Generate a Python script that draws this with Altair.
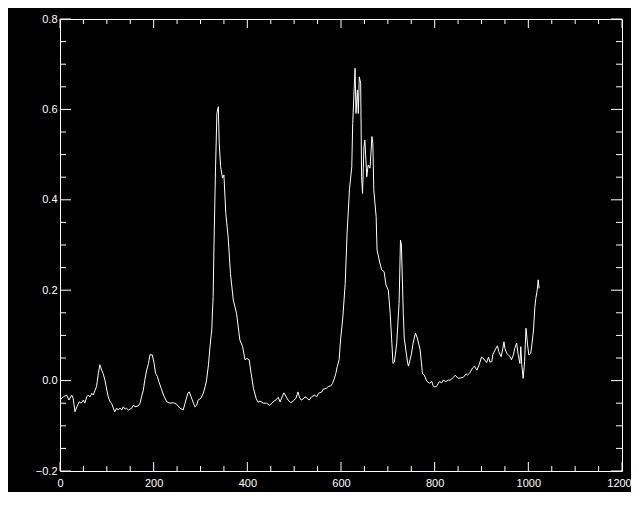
import altair as alt
import pandas as pd

# Spectrum samples
xs = [0, 7, 14, 19, 25, 28, 32, 36, 41, 45, 50, 53, 57, 60, 64, 68, 71, 75, 78, 82,
      85, 89, 92, 96, 100, 103, 107, 110, 114, 117, 121, 124, 128, 132, 135, 139, 142, 146, 153, 157,
      160, 167, 171, 174, 178, 181, 185, 189, 192, 197, 201, 204, 208, 211, 216, 221, 228, 235, 242, 249,
      256, 263, 267, 273, 276, 280, 285, 288, 292, 295, 301, 306, 310, 313, 317, 320, 324, 327, 329, 332,
      335, 338, 340, 343, 347, 350, 354, 359, 364, 370, 377, 384, 390, 395, 399, 404, 408, 413, 419, 423,
      427, 434, 441, 448, 455, 463, 466, 470, 473, 478, 483, 487, 493, 498, 504, 508, 511, 515, 519, 523,
      528, 532, 537, 544, 548, 552, 559, 562, 569, 573, 578, 582, 586, 589, 592, 596, 599, 604, 609, 613,
      618, 623, 625, 628, 630, 632, 635, 637, 639, 642, 644, 646, 649, 651, 655, 658, 662, 666, 668, 670,
      675, 677, 683, 687, 692, 696, 701, 705, 708, 711, 714, 719, 724, 727, 729, 733, 735, 742, 744, 750,
      754, 759, 763, 769, 774, 778, 783, 789, 794, 796, 799, 804, 810, 815, 818, 824, 829, 833, 840, 844,
      850, 856, 861, 867, 870, 875, 881, 885, 890, 895, 900, 905, 911, 915, 918, 922, 924, 930, 934, 937,
      942, 945, 948, 950, 954, 957, 961, 964, 968, 971, 975, 978, 982, 984, 986, 989, 992, 995, 998, 1001,
      1005, 1008, 1011, 1014, 1016, 1019, 1021, 1023]
ys = [-0.043, -0.036, -0.032, -0.043, -0.032, -0.039, -0.069, -0.058, -0.047, -0.050, -0.043, -0.050, -0.036, -0.032, -0.036, -0.028, -0.032, -0.021, -0.013, 0.016,
      0.035, 0.023, 0.016, 0.001, -0.021, -0.036, -0.047, -0.050, -0.061, -0.069, -0.061, -0.065, -0.061, -0.065, -0.058, -0.063, -0.061, -0.065, -0.061, -0.054,
      -0.058, -0.056, -0.050, -0.036, -0.021, 0.001, 0.023, 0.038, 0.057, 0.057, 0.038, 0.016, 0.009, -0.002, -0.017, -0.032, -0.047, -0.050, -0.049, -0.052,
      -0.061, -0.065, -0.050, -0.028, -0.025, -0.036, -0.050, -0.058, -0.054, -0.043, -0.039, -0.028, -0.013, 0.001, 0.035, 0.072, 0.112, 0.186, 0.311, 0.466,
      0.591, 0.606, 0.525, 0.473, 0.448, 0.455, 0.370, 0.318, 0.237, 0.178, 0.149, 0.090, 0.075, 0.046, 0.049, 0.046, 0.016, -0.017, -0.040, -0.048,
      -0.045, -0.050, -0.050, -0.055, -0.047, -0.041, -0.037, -0.047, -0.039, -0.027, -0.036, -0.043, -0.049, -0.045, -0.039, -0.025, -0.036, -0.043, -0.041, -0.036,
      -0.039, -0.043, -0.036, -0.032, -0.036, -0.028, -0.025, -0.019, -0.017, -0.013, -0.012, -0.006, 0.005, 0.016, 0.031, 0.046, 0.090, 0.141, 0.215, 0.326,
      0.422, 0.473, 0.569, 0.643, 0.691, 0.591, 0.643, 0.591, 0.672, 0.658, 0.451, 0.414, 0.517, 0.532, 0.451, 0.477, 0.470, 0.540, 0.525, 0.422,
      0.363, 0.289, 0.260, 0.245, 0.241, 0.212, 0.200, 0.149, 0.094, 0.038, 0.041, 0.083, 0.171, 0.311, 0.300, 0.149, 0.094, 0.041, 0.032, 0.057,
      0.083, 0.105, 0.094, 0.068, 0.015, 0.012, -0.001, -0.006, -0.002, -0.010, -0.014, -0.013, -0.002, -0.005, 0.001, -0.002, 0.001, 0.001, 0.007, 0.012,
      0.005, 0.006, 0.007, 0.015, 0.012, 0.017, 0.028, 0.032, 0.023, 0.035, 0.052, 0.048, 0.040, 0.052, 0.041, 0.042, 0.057, 0.070, 0.077, 0.064,
      0.053, 0.068, 0.086, 0.071, 0.060, 0.057, 0.053, 0.046, 0.057, 0.071, 0.083, 0.060, 0.038, 0.075, 0.035, 0.005, 0.042, 0.116, 0.083, 0.057,
      0.060, 0.083, 0.112, 0.163, 0.182, 0.200, 0.223, 0.204]

x_major = [0, 200, 400, 600, 800, 1000, 1200]
x_minor = [v for v in range(0, 1201, 50) if v % 200 != 0]
y_major = [-0.2, 0.0, 0.2, 0.4, 0.6, 0.8]
y_minor = [round(-0.2 + 0.05 * i, 2) for i in range(21) if i % 4 != 0]

W, H = 562, 452
FONT = "Liberation Sans"

XS = alt.Scale(domain=[0, 1200], nice=False, zero=False)
YS = alt.Scale(domain=[-0.2, 0.8], nice=False, zero=False)

df = pd.DataFrame({"x": xs, "y": ys})

line = alt.Chart(df).mark_line(color="white", strokeWidth=1).encode(
    x=alt.X("x:Q", scale=XS, axis=alt.Axis(values=x_major, format="d", ticks=False, tickSize=0,
                                           domain=False, grid=False, title="", labelColor="white",
                                           labelFont=FONT, labelFontSize=11, labelPadding=6,
                                           labelFlush=False, labelOverlap=False,
                                           labelOffset={"condition": {"test": "datum.value === 1200", "value": -3},
                                                        "value": 0})),
    y=alt.Y("y:Q", scale=YS, axis=alt.Axis(values=y_major, format=".1f", ticks=False, tickSize=0,
                                           domain=False, grid=False, title="", labelColor="white",
                                           labelFont=FONT, labelFontSize=11, labelPadding=3,
                                           labelOverlap=False)),
)


def xticks(values, y_from, y_to):
    return alt.Chart(pd.DataFrame({"x": values})).mark_rule(color="white", strokeWidth=1).encode(
        x=alt.X("x:Q", scale=XS), y=alt.value(y_from), y2=alt.value(y_to))


def yticks(values, x_from, x_to):
    return alt.Chart(pd.DataFrame({"y": values})).mark_rule(color="white", strokeWidth=1).encode(
        y=alt.Y("y:Q", scale=YS), x=alt.value(x_from), x2=alt.value(x_to))


ticks = [
    xticks(x_major, H, H - 9), xticks(x_minor, H, H - 5),
    xticks(x_major, 0, 9), xticks(x_minor, 0, 5),
    yticks(y_major, 0, 11), yticks(y_minor, 0, 6),
    yticks(y_major, W, W - 11), yticks(y_minor, W, W - 6),
]

chart = alt.layer(line, *ticks).properties(
    width=W, height=H,
    padding={"left": 27, "top": 5, "right": -1, "bottom": 4},
).configure(background="black").configure_view(stroke="white", strokeWidth=1)

chart.save("out.html", embed_options={"renderer": "svg", "actions": False})
